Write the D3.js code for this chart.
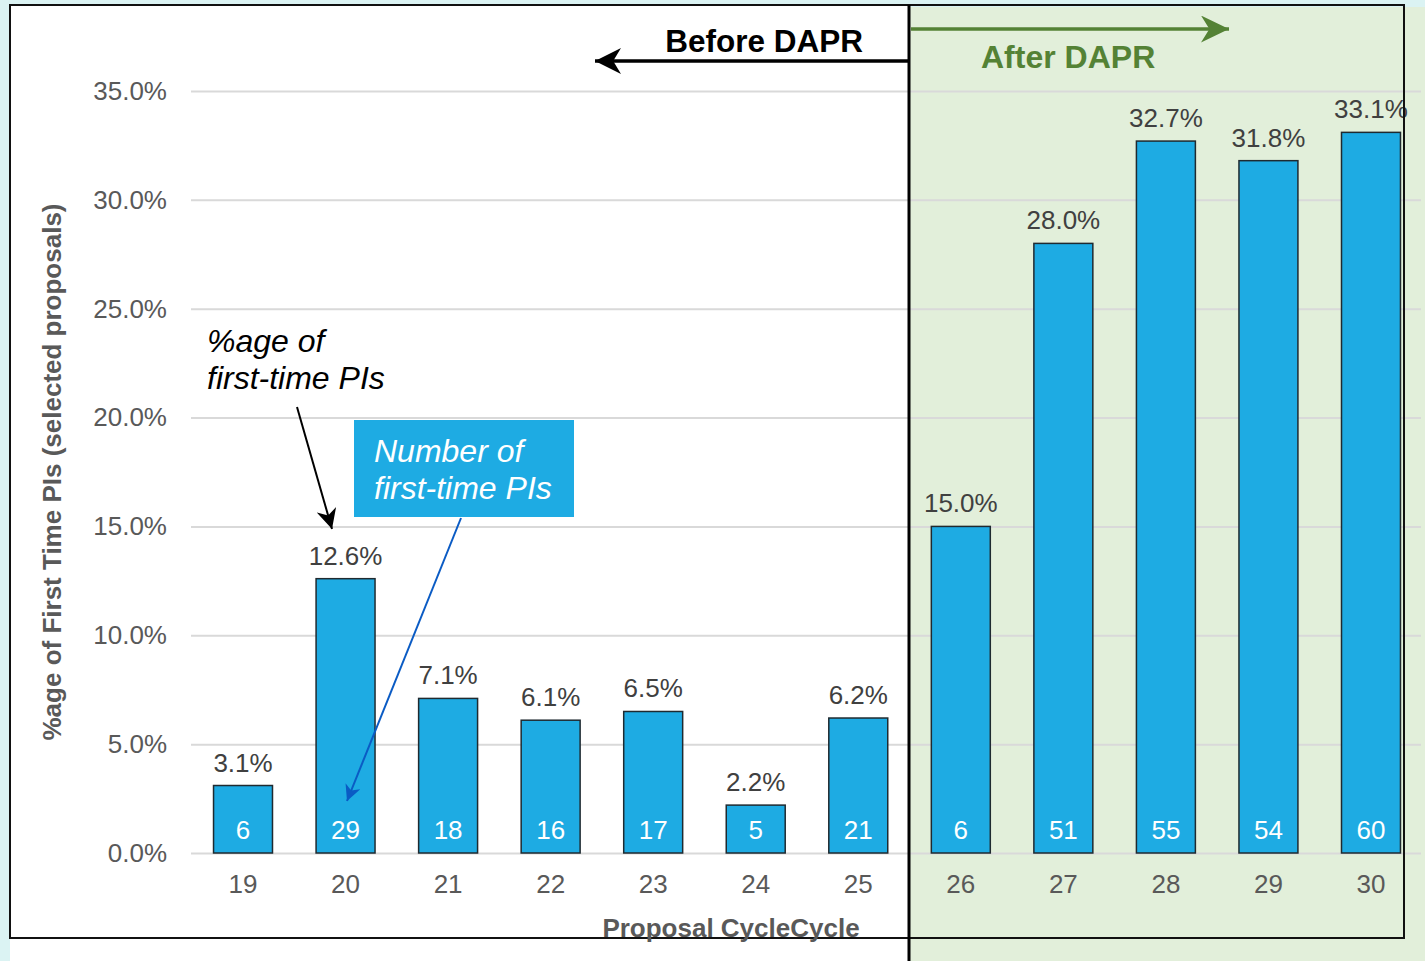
<!DOCTYPE html>
<html>
<head>
<meta charset="utf-8">
<script src="https://cdn.jsdelivr.net/npm/d3@7"></script>
<style>
  html, body { margin: 0; padding: 0; background: #dbf3f3; }
  svg { display: block; font-family: "Liberation Sans", Arial, sans-serif; }
</style>
</head>
<body>
<div id="chart"></div>
<script>
'use strict';

/* chart data */
const cycles = ['19', '20', '21', '22', '23', '24', '25', '26', '27', '28', '29', '30'];
const pctFirstTime = [3.1, 12.6, 7.1, 6.1, 6.5, 2.2, 6.2, 15.0, 28.0, 32.7, 31.8, 33.1];
const numFirstTime = [6, 29, 18, 16, 17, 5, 21, 6, 51, 55, 54, 60];
const yTicks = [0, 5, 10, 15, 20, 25, 30, 35];

const W = 1425, H = 961;
const BLUE = '#1eabe3', GREEN = '#548235', GREY = '#595959';

const svg = d3.select('#chart').append('svg').attr('width', W).attr('height', H);

const x = d3.scaleBand().domain(cycles).range([192, 1422]).paddingInner(0.425).paddingOuter(0.21);
const y = d3.scaleLinear().domain([0, 35]).range([853, 91]);

/* backgrounds */
svg.append('rect').attr('x', 10).attr('y', 5).attr('width', 900).attr('height', H - 5).attr('fill', '#fff');
svg.append('rect').attr('x', 910).attr('y', 7).attr('width', W - 910).attr('height', H - 7).attr('fill', '#e2efda');

/* y axis + gridlines */
const yAxis = svg.append('g')
    .attr('transform', 'translate(191,0)')
    .call(d3.axisLeft(y).tickValues(yTicks).tickSize(-(1421 - 191)).tickPadding(24)
        .tickFormat(d => d.toFixed(1) + '%'));
yAxis.select('.domain').remove();
yAxis.selectAll('line').attr('stroke', '#d9d9d9').attr('stroke-width', 2);
yAxis.selectAll('text').attr('font-size', 26).attr('fill', GREY).attr('font-family', '"Liberation Sans", Arial, sans-serif');

/* x axis */
const xAxis = svg.append('g')
    .attr('transform', 'translate(0,853)')
    .call(d3.axisBottom(x).tickSize(0).tickPadding(22));
xAxis.select('.domain').remove();
xAxis.selectAll('text').attr('font-size', 26).attr('fill', GREY).attr('font-family', '"Liberation Sans", Arial, sans-serif');

/* bars */
const data = cycles.map((c, i) => ({ c, p: pctFirstTime[i], n: numFirstTime[i] }));

svg.append('g').selectAll('rect')
    .data(data)
    .join('rect')
    .attr('x', d => x(d.c))
    .attr('y', d => y(d.p))
    .attr('width', x.bandwidth())
    .attr('height', d => y(0) - y(d.p))
    .attr('fill', BLUE)
    .attr('stroke', '#1f2a30')
    .attr('stroke-width', 1.5);

svg.append('g').selectAll('text')
    .data(data)
    .join('text')
    .attr('x', d => x(d.c) + x.bandwidth() / 2)
    .attr('y', d => y(d.p) - 14)
    .attr('text-anchor', 'middle')
    .attr('font-size', 26)
    .attr('fill', '#404040')
    .text(d => d.p.toFixed(1) + '%');

svg.append('g').selectAll('text')
    .data(data)
    .join('text')
    .attr('x', d => x(d.c) + x.bandwidth() / 2)
    .attr('y', 839)
    .attr('text-anchor', 'middle')
    .attr('font-size', 26)
    .attr('fill', '#fff')
    .text(d => d.n);

/* frame + divider */
svg.append('rect').attr('x', 10).attr('y', 5).attr('width', 1394).attr('height', 933)
    .attr('fill', 'none').attr('stroke', '#111').attr('stroke-width', 2);
svg.append('line').attr('x1', 909).attr('x2', 909).attr('y1', 5).attr('y2', H)
    .attr('stroke', '#000').attr('stroke-width', 3);

/* axis titles */
svg.append('text')
    .attr('transform', 'translate(61,472) rotate(-90)')
    .attr('text-anchor', 'middle')
    .attr('font-size', 26).attr('font-weight', 'bold').attr('fill', GREY)
    .text('%age of First Time PIs (selected proposals)');
svg.append('text')
    .attr('x', 731).attr('y', 937)
    .attr('text-anchor', 'middle')
    .attr('font-size', 26).attr('font-weight', 'bold').attr('fill', GREY)
    .text('Proposal CycleCycle');

/* arrowheads */
const defs = svg.append('defs');
function arrowMarker(id, color, w, h) {
    defs.append('marker')
        .attr('id', id)
        .attr('viewBox', `0 0 ${w} ${h}`)
        .attr('refX', w).attr('refY', h / 2)
        .attr('markerWidth', w).attr('markerHeight', h)
        .attr('markerUnits', 'userSpaceOnUse')
        .attr('orient', 'auto')
        .append('path')
        .attr('d', `M0,0 L${w},${h / 2} L0,${h} L${w * 0.3},${h / 2} Z`)
        .attr('fill', color);
}
arrowMarker('arrBlack', '#000', 26, 26);
arrowMarker('arrGreen', GREEN, 28, 27);
arrowMarker('arrThin', '#000', 20, 20);
arrowMarker('arrBlue', '#0a5bc4', 16, 16);

/* before / after DAPR */
svg.append('line').attr('x1', 909).attr('y1', 61).attr('x2', 595).attr('y2', 61)
    .attr('stroke', '#000').attr('stroke-width', 3.5).attr('marker-end', 'url(#arrBlack)');
svg.append('text').attr('x', 863).attr('y', 52).attr('text-anchor', 'end')
    .attr('font-size', 31.5).attr('font-weight', 'bold').attr('fill', '#000')
    .text('Before DAPR');

svg.append('line').attr('x1', 911).attr('y1', 29).attr('x2', 1229).attr('y2', 29)
    .attr('stroke', GREEN).attr('stroke-width', 3.5).attr('marker-end', 'url(#arrGreen)');
svg.append('text').attr('x', 981).attr('y', 68)
    .attr('font-size', 32).attr('font-weight', 'bold').attr('fill', GREEN)
    .text('After DAPR');

/* annotation: percentage */
const ann = svg.append('text').attr('font-size', 32).attr('font-style', 'italic').attr('fill', '#000');
ann.append('tspan').attr('x', 207).attr('y', 352).text('%age of');
ann.append('tspan').attr('x', 207).attr('y', 389).text('first-time PIs');
svg.append('line').attr('x1', 297).attr('y1', 407).attr('x2', 332).attr('y2', 529)
    .attr('stroke', '#000').attr('stroke-width', 2).attr('marker-end', 'url(#arrThin)');

/* annotation: number */
svg.append('rect').attr('x', 354).attr('y', 420).attr('width', 220).attr('height', 97).attr('fill', BLUE);
const ann2 = svg.append('text').attr('font-size', 32).attr('font-style', 'italic').attr('fill', '#fff');
ann2.append('tspan').attr('x', 374).attr('y', 462).text('Number of');
ann2.append('tspan').attr('x', 374).attr('y', 499).text('first-time PIs');
svg.append('line').attr('x1', 461).attr('y1', 518).attr('x2', 347).attr('y2', 801)
    .attr('stroke', '#0a5bc4').attr('stroke-width', 2).attr('marker-end', 'url(#arrBlue)');
</script>
</body>
</html>
